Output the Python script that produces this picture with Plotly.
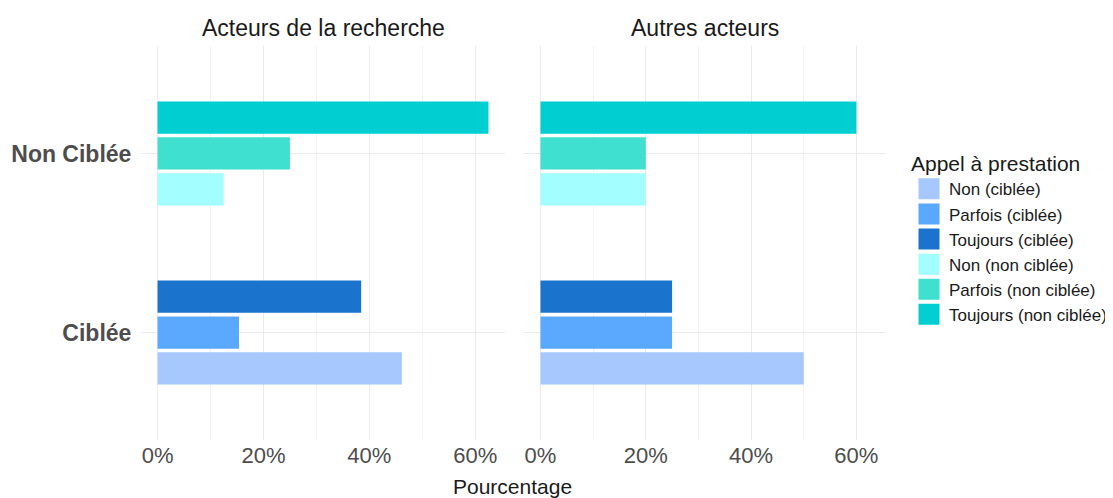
import plotly.graph_objects as go

# ---- data ----
facets = ["Acteurs de la recherche", "Autres acteurs"]
categories = ["Ciblée", "Non Ciblée"]
levels = ["Non", "Parfois", "Toujours"]
# values (%) per facet and category, ordered Non, Parfois, Toujours
recherche_ciblee = [46.15, 15.38, 38.46]
recherche_non_ciblee = [12.5, 25.0, 62.5]
autres_ciblee = [50.0, 25.0, 25.0]
autres_non_ciblee = [20.0, 20.0, 60.0]
legend_labels_ciblee = ["Non (ciblée)", "Parfois (ciblée)", "Toujours (ciblée)"]
legend_labels_non_ciblee = ["Non (non ciblée)", "Parfois (non ciblée)", "Toujours (non ciblée)"]
x_ticks = [0, 20, 40, 60]
x_ticktext = ["0%", "20%", "40%", "60%"]

# ---- style ----
colors_ciblee = ["#A6C8FF", "#5AA9FF", "#1A74CD"]
colors_non_ciblee = ["#A3FFFF", "#40E0D0", "#00CED1"]
offsets = [-0.29, -0.09, 0.11]
bar_w = 0.18
FONT = "Liberation Sans, Arial, sans-serif"

# page body has an 8px margin: work in screen pixels, shift by 8
OFF = 8
W, H = 1105, 490
def px_x(p): return (p - OFF) / W
def px_y(p): return 1 - (p - OFF) / H

fig = go.Figure()

data = {
    0: (recherche_ciblee, recherche_non_ciblee),
    1: (autres_ciblee, autres_non_ciblee),
}

for fi in range(2):
    xa = "x" if fi == 0 else "x2"
    ya = "y" if fi == 0 else "y2"
    cib, ncib = data[fi]
    for k in range(3):
        fig.add_trace(go.Bar(
            y=[categories[0]], x=[cib[k]], orientation="h",
            width=bar_w, offset=offsets[k],
            marker=dict(color=colors_ciblee[k], line=dict(width=0)),
            name=legend_labels_ciblee[k], legendgroup=legend_labels_ciblee[k],
            showlegend=False, xaxis=xa, yaxis=ya, hoverinfo="x+name"))
    for k in range(3):
        fig.add_trace(go.Bar(
            y=[categories[1]], x=[ncib[k]], orientation="h",
            width=bar_w, offset=offsets[k],
            marker=dict(color=colors_non_ciblee[k], line=dict(width=0)),
            name=legend_labels_non_ciblee[k], legendgroup=legend_labels_non_ciblee[k],
            showlegend=False, xaxis=xa, yaxis=ya, hoverinfo="x+name"))

# legend keys (larger squares, like ggplot keys)
for labels, cols in ((legend_labels_ciblee, colors_ciblee), (legend_labels_non_ciblee, colors_non_ciblee)):
    for lab, col in zip(labels, cols):
        fig.add_trace(go.Scatter(
            x=[None], y=[None], mode="markers", name=lab, legendgroup=lab,
            marker=dict(symbol="square", size=16, color=col, line=dict(width=5, color=col)),
            showlegend=True, xaxis="x", yaxis="y"))

xrange = [-3.125, 65.625]
common_x = dict(
    range=xrange, tickvals=x_ticks, ticktext=x_ticktext,
    showgrid=True, gridcolor="#EBEBEB", gridwidth=1,
    minor=dict(dtick=10, tick0=0, showgrid=True, gridcolor="#F2F2F2", gridwidth=1),
    zeroline=False, showline=False,
    ticks="", ticklen=0,
    tickfont=dict(family=FONT, size=22, color="#4D4D4D"),
    automargin=False, fixedrange=True,
)
common_y = dict(
    type="category", categoryorder="array", categoryarray=categories,
    range=[-0.6, 1.6],
    showgrid=True, gridcolor="#EBEBEB", gridwidth=1,
    zeroline=False, showline=False,
    automargin=False, fixedrange=True,
)

fig.update_layout(
    width=W, height=H,
    margin=dict(l=0, r=0, t=0, b=0),
    paper_bgcolor="white", plot_bgcolor="white",
    barmode="overlay",
    template="none",
    font=dict(family=FONT, color="#1A1A1A"),
    xaxis=dict(domain=[px_x(141), px_x(505)], anchor="y", **common_x),
    xaxis2=dict(domain=[px_x(524), px_x(886)], anchor="y2", **common_x),
    yaxis=dict(domain=[px_y(440), px_y(46)], anchor="x",
               ticks="outside", ticklen=4, tickcolor="rgba(0,0,0,0)",
               tickfont=dict(family=FONT, size=23, color="#4D4D4D", weight="bold"),
               **common_y),
    yaxis2=dict(domain=[px_y(440), px_y(46)], anchor="x2", showticklabels=False,
                **common_y),
    legend=dict(
        title=dict(text="Appel à prestation", font=dict(family=FONT, size=21, color="#1A1A1A")),
        x=px_x(909), y=px_y(144), xanchor="left", yanchor="top",
        traceorder="normal", tracegroupgap=0,
        font=dict(family=FONT, size=17, color="#1A1A1A"),
        bgcolor="rgba(0,0,0,0)",
        itemclick=False, itemdoubleclick=False,
    ),
    showlegend=True,
)

annotations = [
    dict(text=facets[0], x=(px_x(141) + px_x(505)) / 2, y=px_y(28), xref="paper", yref="paper",
         showarrow=False, font=dict(family=FONT, size=23, color="#1A1A1A"), xanchor="center", yanchor="middle"),
    dict(text=facets[1], x=(px_x(524) + px_x(886)) / 2, y=px_y(28), xref="paper", yref="paper",
         showarrow=False, font=dict(family=FONT, size=23, color="#1A1A1A"), xanchor="center", yanchor="middle"),
    dict(text="Pourcentage", x=px_x(512), y=px_y(486), xref="paper", yref="paper",
         showarrow=False, font=dict(family=FONT, size=21, color="#1A1A1A"), xanchor="center", yanchor="middle"),
]
fig.update_layout(annotations=annotations)

fig.write_html("out.html")
